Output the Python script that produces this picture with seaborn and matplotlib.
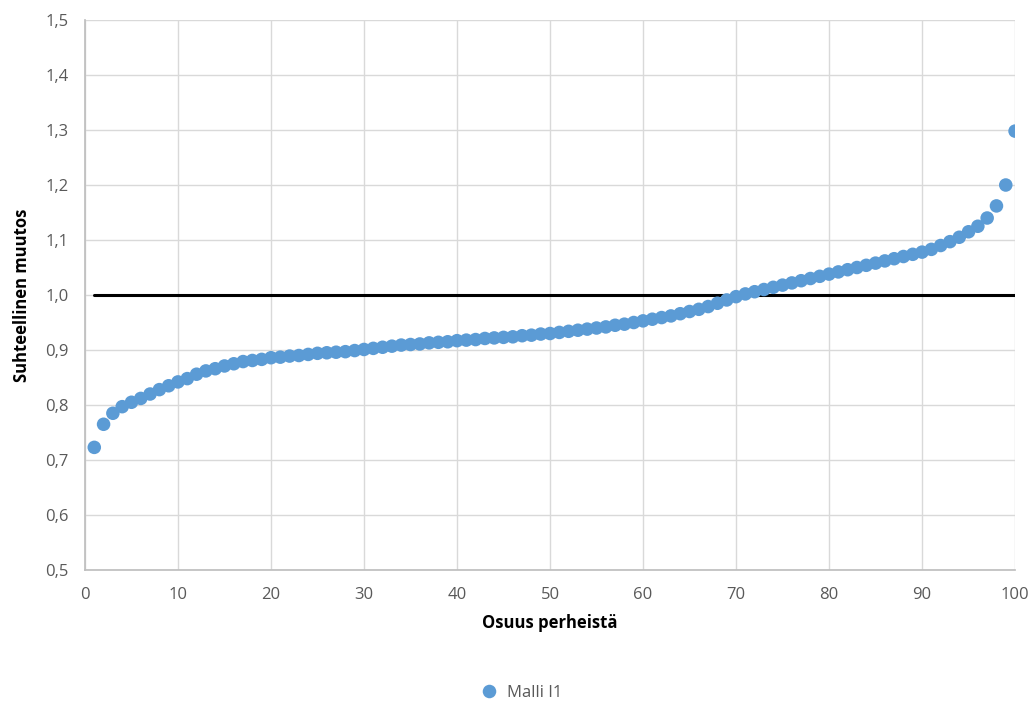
import numpy as np
import pandas as pd
import matplotlib
matplotlib.use("Agg")
import matplotlib.pyplot as plt
import seaborn as sns
from matplotlib.ticker import FuncFormatter, MultipleLocator

# Data
osuus = list(range(1, 101))
muutos = [
    0.723, 0.765, 0.785, 0.797, 0.805, 0.812, 0.820, 0.828, 0.835, 0.842,
    0.848, 0.856, 0.862, 0.866, 0.871, 0.875, 0.879, 0.881, 0.883, 0.886,
    0.887, 0.889, 0.890, 0.892, 0.894, 0.895, 0.896, 0.897, 0.899, 0.901,
    0.903, 0.905, 0.907, 0.909, 0.910, 0.911, 0.913, 0.914, 0.915, 0.917,
    0.918, 0.919, 0.921, 0.922, 0.923, 0.924, 0.926, 0.927, 0.929, 0.930,
    0.932, 0.934, 0.936, 0.938, 0.940, 0.942, 0.945, 0.947, 0.950, 0.953,
    0.956, 0.959, 0.962, 0.966, 0.970, 0.974, 0.979, 0.985, 0.991, 0.997,
    1.002, 1.006, 1.010, 1.014, 1.018, 1.022, 1.026, 1.030, 1.034, 1.038,
    1.042, 1.046, 1.050, 1.054, 1.058, 1.062, 1.066, 1.070, 1.074, 1.078,
    1.083, 1.090, 1.097, 1.105, 1.115, 1.125, 1.140, 1.162, 1.200, 1.298,
]
viiva_x = [1, 100]
viiva_y = [1.0, 1.0]
sarja = "Malli I1"

df = pd.DataFrame({"osuus": osuus, "muutos": muutos, "sarja": sarja})

sns.set_theme(style="whitegrid", rc={"grid.color": "#d9d9d9", "axes.edgecolor": "#bfbfbf"})
plt.rcParams["font.family"] = ["Open Sans", "DejaVu Sans"]

fig = plt.figure(figsize=(10.3, 7.02), dpi=100)
ax = fig.add_axes([0.0825, 0.188, 0.903, 0.7835])

ax.plot(viiva_x, viiva_y, color="black", linewidth=2.2, zorder=2)
sns.scatterplot(data=df, x="osuus", y="muutos", hue="sarja", palette=["#5b9bd5"],
                s=95, edgecolor="none", ax=ax, zorder=3)

ax.set_xlim(0, 100)
ax.set_ylim(0.5, 1.5)
ax.xaxis.set_major_locator(MultipleLocator(10))
ax.yaxis.set_major_locator(MultipleLocator(0.1))
ax.yaxis.set_major_formatter(FuncFormatter(lambda v, p: f"{v:.1f}".replace(".", ",")))
ax.tick_params(axis="both", labelsize=12, colors="#595959", pad=6)
for s in ["top", "right"]:
    ax.spines[s].set_visible(False)
for s in ["left", "bottom"]:
    ax.spines[s].set_color("#bfbfbf")

ax.set_xlabel("Osuus perheistä", fontsize=12, fontweight="bold", color="black", labelpad=8)
ax.set_ylabel("Suhteellinen muutos", fontsize=12, fontweight="bold", color="black", labelpad=10)

h, l = ax.get_legend_handles_labels()
ax.legend(h, l, loc="upper center", bbox_to_anchor=(0.465, -0.182), frameon=False,
          fontsize=12, handletextpad=0.1, markerscale=1.0)
for t in ax.get_legend().get_texts():
    t.set_color("#595959")

fig.savefig("out.png", dpi=100)
